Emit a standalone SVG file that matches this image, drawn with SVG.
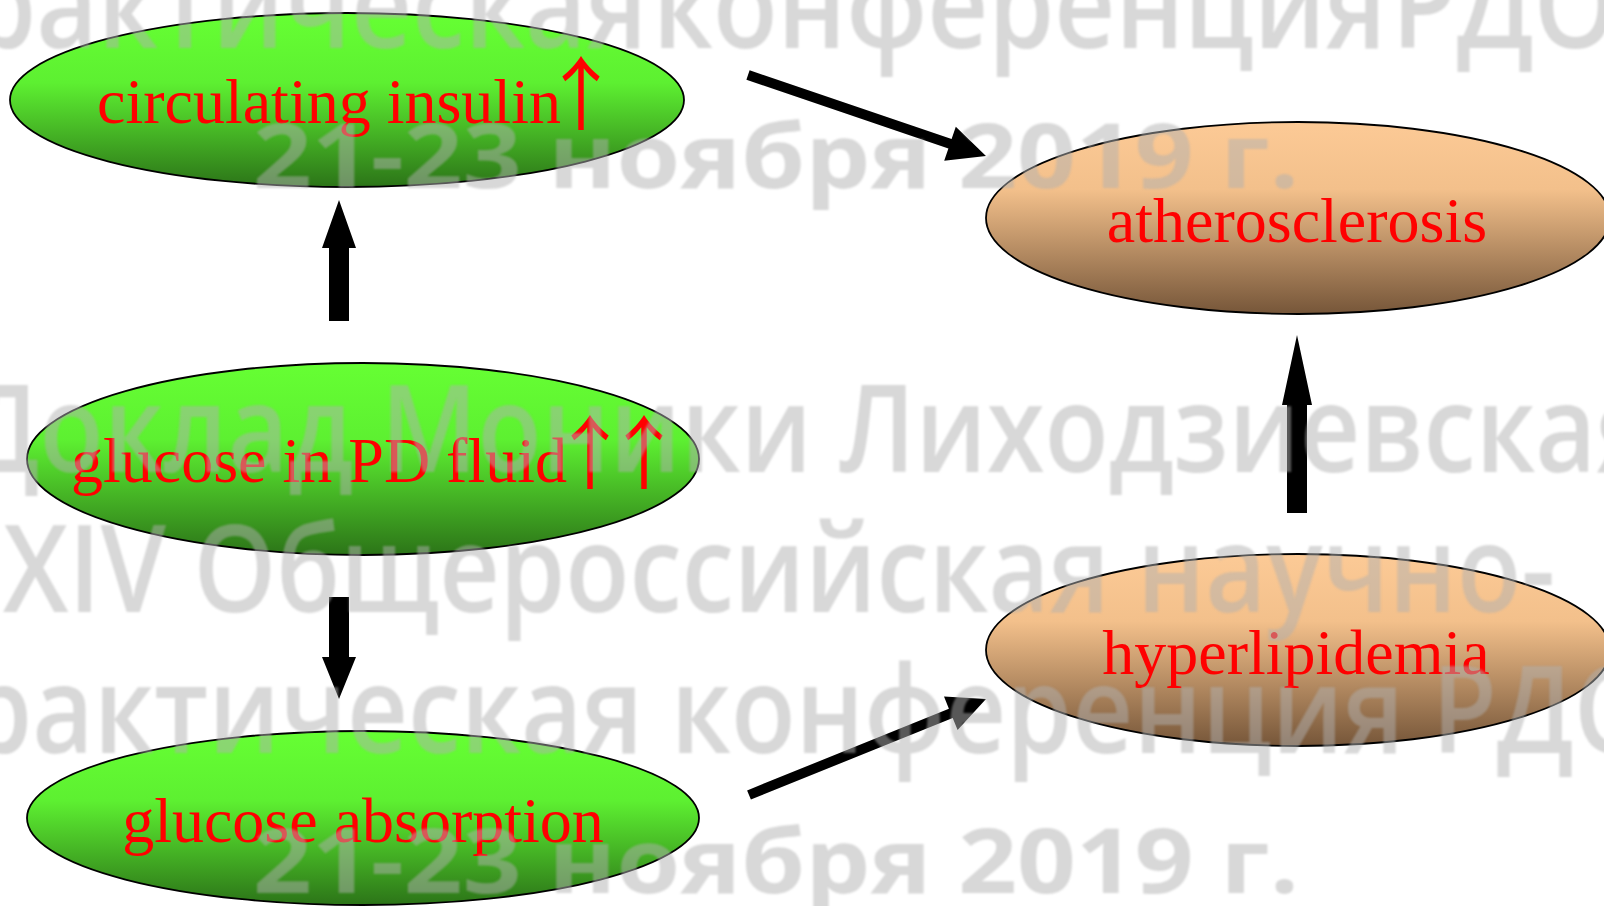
<svg xmlns="http://www.w3.org/2000/svg" width="1604" height="906" viewBox="0 0 1604 906">
<style>
.lbl{font-family:"Liberation Serif","Times New Roman",serif;font-size:64px;fill:#ff0000}
.mid{text-anchor:middle}
.up{font-family:"Noto Sans CJK SC","Noto Sans",sans-serif;font-size:80px;letter-spacing:-26px}
.node ellipse{stroke:#000;stroke-width:1.8}
.arr{fill:#000}
.wm{font-family:"Open Sans","Noto Sans",sans-serif;fill:#b0b0b0;text-anchor:middle;font-weight:600}
.wa{font-size:106px}
.wb{font-size:74px;font-weight:700}
</style>
<defs>
<linearGradient id="gG" x1="0" y1="0" x2="0" y2="1">
<stop offset="0" stop-color="#66ff33"/>
<stop offset="0.4" stop-color="#5df031"/>
<stop offset="1" stop-color="#2c7418"/>
</linearGradient>
<linearGradient id="gO" x1="0" y1="0" x2="0" y2="1">
<stop offset="0" stop-color="#fcca96"/>
<stop offset="0.35" stop-color="#f3c08b"/>
<stop offset="1" stop-color="#765639"/>
</linearGradient>
<filter id="soft" x="-5%" y="-20%" width="110%" height="140%">
<feGaussianBlur stdDeviation="0.8"/>
</filter>
</defs>
<rect width="1604" height="906" fill="#fff"/>
<g id="n-insulin" class="node">
<ellipse cx="347" cy="100" rx="337" ry="87" fill="url(#gG)"/>
<text class="lbl" x="97" y="123">circulating insulin<tspan class="up" dx="-20">↑</tspan></text>
</g>
<g id="n-pdfluid" class="node">
<ellipse cx="363" cy="459" rx="336" ry="96" fill="url(#gG)"/>
<text class="lbl" x="71" y="482">glucose in PD fluid<tspan class="up" dx="-17">↑↑</tspan></text>
</g>
<g id="n-absorption" class="node">
<ellipse cx="363" cy="818" rx="336" ry="87" fill="url(#gG)"/>
<text class="lbl mid" x="363" y="842">glucose absorption</text>
</g>
<g id="n-athero" class="node">
<ellipse cx="1298" cy="218" rx="312" ry="96" fill="url(#gO)"/>
<text class="lbl mid" x="1297" y="242">atherosclerosis</text>
</g>
<g id="n-hyperlip" class="node">
<ellipse cx="1298" cy="650" rx="312" ry="96" fill="url(#gO)"/>
<text class="lbl mid" x="1296" y="674">hyperlipidemia</text>
</g>
<g id="connectors">
<polygon class="arr" points="329,321 349,321 349,248 356,248 339,200 322,248 329,248"/>
<polygon class="arr" points="329,597 349,597 349,657 356,657 339,699 322,657 329,657"/>
<polygon class="arr" points="1287,513 1307,513 1307,405 1312,405 1297,335 1282,405 1287,405"/>
<polygon class="arr" points="749.6,70.3 951.6,139.1 955.8,126.8 986,156 944.2,160.8 948.4,148.5 746.4,79.7"/>
<polygon class="arr" points="747.1,790.4 948.9,708.7 944,696.6 986,699 957.6,730 952.7,717.9 750.9,799.6"/>
</g>
<g id="watermark" class="wm" opacity="0.5" filter="url(#soft)">
<text class="wa" transform="translate(0,48) scale(1,1.14)" x="760" y="0" style="word-spacing:-22px">практическая конференция РДО</text>
<text class="wb" transform="translate(0,188) scale(1,1.22)" x="776" y="0" textLength="1046" lengthAdjust="spacingAndGlyphs">21-23 ноября 2019 г.</text>
<text class="wa" transform="translate(0,472) scale(1,1.14)" x="810" y="0" textLength="1693" lengthAdjust="spacingAndGlyphs">Доклад Моники Лиходзиевская</text>
<text class="wa" transform="translate(0,612) scale(1,1.14)" x="779" y="0" textLength="1552" lengthAdjust="spacingAndGlyphs">XIV Общероссийская научно-</text>
<text class="wa" transform="translate(0,753) scale(1,1.14)" x="778" y="0">практическая конференция РДО</text>
<text class="wb" transform="translate(0,893) scale(1,1.22)" x="776" y="0" textLength="1046" lengthAdjust="spacingAndGlyphs">21-23 ноября 2019 г.</text>
</g>
</svg>
